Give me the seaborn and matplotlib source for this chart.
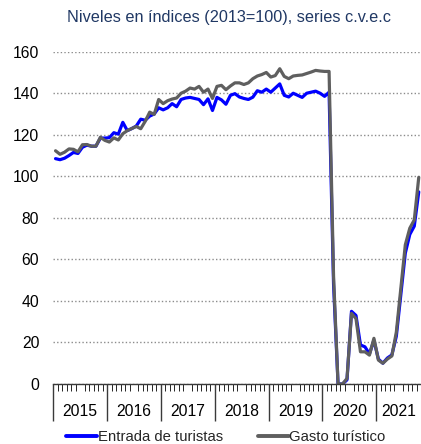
import numpy as np
import pandas as pd
import matplotlib
matplotlib.use("Agg")
import matplotlib.pyplot as plt
from matplotlib.lines import Line2D
import seaborn as sns

# Monthly series, Jan 2015 - Oct 2021 (index 2013=100, seasonally & calendar adjusted)
months = pd.period_range("2015-01", "2021-10", freq="M").strftime("%Y-%m").tolist()

entrada_turistas = [
    108.5, 108.0, 108.7, 110.0, 111.5, 111.0, 114.0, 115.0, 114.5, 114.5, 118.4, 118.4,
    118.6, 121.0, 120.3, 126.0, 122.0, 123.0, 124.2, 127.5, 127.0, 129.0, 130.0, 133.0,
    132.0, 133.0, 135.0, 133.5, 137.0, 137.7, 138.0, 137.5, 137.0, 134.5, 137.3, 131.7,
    138.0, 136.8, 134.7, 139.0, 139.8, 138.2, 137.5, 137.0, 138.1, 141.2, 140.5, 142.0,
    140.5, 142.5, 144.5, 139.0, 138.2, 140.0, 139.0, 138.0, 140.0, 140.5, 141.0, 140.0,
    138.5, 140.5, 48.0, 0.0, 0.0, 2.0, 35.0, 33.0, 18.8, 17.9, 14.5, 21.0,
    12.0, 10.0, 12.5, 14.0, 23.0, 43.0, 63.0, 72.0, 76.0, 92.5,
]

gasto_turistico = [
    112.3, 110.6, 111.6, 113.2, 113.0, 111.8, 115.2, 115.3, 114.5, 114.5, 118.8, 117.3,
    116.5, 118.5, 117.5, 120.5, 122.0, 123.0, 124.0, 122.9, 126.5, 130.9, 129.8, 137.0,
    135.0, 136.4, 137.2, 137.7, 140.0, 141.0, 142.5, 142.0, 143.3, 140.5, 142.0, 137.5,
    143.3, 143.8, 141.7, 143.5, 145.0, 145.0, 144.2, 145.0, 147.0, 148.3, 149.0, 150.0,
    147.8, 148.5, 151.8, 148.1, 147.0, 148.3, 148.6, 148.8, 149.5, 150.2, 151.0, 150.7,
    150.5, 150.5, 52.0, 0.0, 0.0, 2.7, 34.0, 31.5, 15.5, 15.5, 13.9, 22.0,
    11.5, 10.0, 12.0, 13.5, 25.0, 46.0, 67.0, 75.0, 79.0, 99.5,
]

series_names = ["Entrada de turistas", "Gasto turístico"]
series_colors = ["#0000FF", "#5F5F5F"]
year_labels = ["2015", "2016", "2017", "2018", "2019", "2020", "2021"]
y_ticks = [0, 20, 40, 60, 80, 100, 120, 140, 160]

title = "Niveles en índices (2013=100), series c.v.e.c"

sns.set_theme(style="white")
plt.rcParams["font.family"] = ["Liberation Sans", "DejaVu Sans"]

n = len(months)
df = pd.DataFrame({
    "mes": months * 2,
    "pos": list(range(n)) * 2,
    "valor": entrada_turistas + gasto_turistico,
    "serie": [series_names[0]] * n + [series_names[1]] * n,
})

W, H = 421, 444
PT = 72 / 100  # points per pixel at 100 dpi
fig = plt.figure(figsize=(W / 100, H / 100), dpi=100)
left_px, right_px, top_px, bottom_px = 53.3, 421.0, 51.7, 384.0
ax = fig.add_axes([left_px / W, (H - bottom_px) / H,
                   (right_px - left_px) / W, (bottom_px - top_px) / H])

sns.lineplot(data=df, x="pos", y="valor", hue="serie", hue_order=series_names,
             palette=series_colors, linewidth=2.3, ax=ax, legend=False)

ax.set_xlim(-0.5, -0.5 + (right_px - left_px) / 4.5)
ax.set_ylim(0, 160)
ax.set_xlabel("")
ax.set_ylabel("")

# y axis: dotted grid, labels only
ax.set_yticks(y_ticks)
ax.set_yticklabels([str(v) for v in y_ticks], fontsize=11.3, color="#000000")
ax.tick_params(axis="y", length=0, pad=14 * PT)
ax.yaxis.grid(True, linestyle=(0, (1, 1.6)), linewidth=1.0, color="#8C8C8C")
ax.xaxis.grid(False)

for s in ["left", "right", "top"]:
    ax.spines[s].set_visible(False)
ax.spines["bottom"].set_color("#3A3A3A")
ax.spines["bottom"].set_linewidth(1.0)

# x axis: month tick marks, year labels centred on their months
year_starts = list(range(0, n, 12))
centers = [(s + min(s + 11, n - 1)) / 2 for s in year_starts]
ax.set_xticks(centers)
ax.set_xticklabels(year_labels, fontsize=11.3, color="#000000")
ax.set_xticks(np.arange(-0.5, n + 0.5, 1), minor=True)
ax.tick_params(axis="x", which="major", length=0, pad=20 * PT)
ax.tick_params(axis="x", which="minor", length=7 * PT, width=PT, color="#2A2A2A",
               direction="out", bottom=True)

# long separators between years, hanging below the axis
sep_depth = 37 / (bottom_px - top_px)
ax.vlines([s - 0.5 for s in year_starts], -sep_depth, 0,
          transform=ax.get_xaxis_transform(), colors="#3A3A3A",
          linewidth=1.0, clip_on=False)

fig.text(228.7 / W, 1 - 17.5 / H, title, ha="center", va="center",
         fontsize=11.7, color="#203864")

handles = [Line2D([], [], color=c, linewidth=2.8) for c in series_colors]
fig.legend(handles, series_names, loc="center", ncol=2, frameon=False,
           bbox_to_anchor=(226 / W, 1 - 437 / H), fontsize=10.7,
           handlelength=2.1, handletextpad=0.05, columnspacing=2.3,
           borderaxespad=0, borderpad=0)

fig.savefig("out.png", dpi=100)
